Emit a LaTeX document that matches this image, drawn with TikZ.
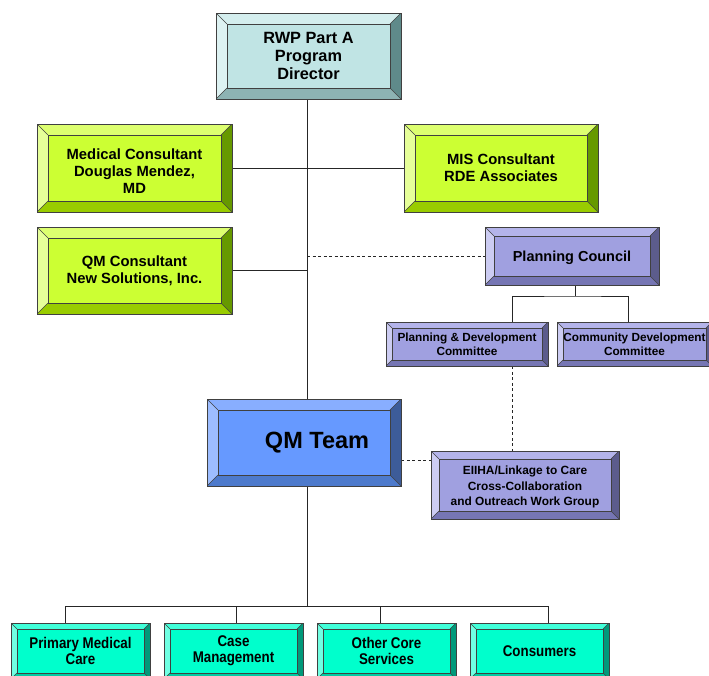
\documentclass[tikz,border=0pt]{standalone}
\usepackage{fontspec}
\setmainfont{Liberation Sans}
\newfontfamily\narrowfont[FakeStretch=0.86]{Liberation Sans}
\usetikzlibrary{backgrounds}
\definecolor{cyanF}{HTML}{C0E4E4}\definecolor{cyanT}{HTML}{D4EEEE}
\definecolor{cyanL}{HTML}{DDF2F2}\definecolor{cyanR}{HTML}{5F8A8A}
\definecolor{cyanB}{HTML}{8DB3B3}
\definecolor{limeF}{HTML}{CCFF33}\definecolor{limeT}{HTML}{DDFF70}
\definecolor{limeL}{HTML}{E6FF99}\definecolor{limeR}{HTML}{669900}
\definecolor{limeB}{HTML}{99CC00}
\definecolor{lilaF}{HTML}{A0A0E0}\definecolor{lilaT}{HTML}{B4B4EA}
\definecolor{lilaL}{HTML}{CCCCF2}\definecolor{lilaR}{HTML}{5C5C8C}
\definecolor{lilaB}{HTML}{7676B4}
\definecolor{blueF}{HTML}{6699FF}\definecolor{blueT}{HTML}{88AEFF}
\definecolor{blueL}{HTML}{9DBDFF}\definecolor{blueR}{HTML}{3D5C99}
\definecolor{blueB}{HTML}{4D7ACC}
\definecolor{tealF}{HTML}{00FFCC}\definecolor{tealT}{HTML}{40FFD9}
\definecolor{tealL}{HTML}{70FFE2}\definecolor{tealR}{HTML}{00997A}
\definecolor{tealB}{HTML}{00CCA3}
\newcommand{\lowertext}[2]{\raisebox{-#1}[\height][\depth]{\begin{tabular}{@{}c@{}}#2\end{tabular}}}
\tikzset{
  bevelbox/.style 2 args={draw=black!75, line width=0.9pt, fill=#1F,
    inner sep=0pt, align=center, font=\bfseries,
    path picture={
      \fill[#1T] (path picture bounding box.north west) -- (path picture bounding box.north east)
        -- ([shift={(-#2,-#2)}]path picture bounding box.north east) -- ([shift={(#2,-#2)}]path picture bounding box.north west) -- cycle;
      \fill[#1L] (path picture bounding box.north west) -- (path picture bounding box.south west)
        -- ([shift={(#2,#2)}]path picture bounding box.south west) -- ([shift={(#2,-#2)}]path picture bounding box.north west) -- cycle;
      \fill[#1R] (path picture bounding box.north east) -- (path picture bounding box.south east)
        -- ([shift={(-#2,#2)}]path picture bounding box.south east) -- ([shift={(-#2,-#2)}]path picture bounding box.north east) -- cycle;
      \fill[#1B] (path picture bounding box.south west) -- (path picture bounding box.south east)
        -- ([shift={(-#2,#2)}]path picture bounding box.south east) -- ([shift={(#2,#2)}]path picture bounding box.south west) -- cycle;
      \draw[black!75, line width=0.6pt] ([shift={(#2,-#2)}]path picture bounding box.north west) rectangle ([shift={(-#2,#2)}]path picture bounding box.south east);
      \draw[black!75, line width=0.6pt] (path picture bounding box.north west) -- ++(#2,-#2)
        (path picture bounding box.north east) -- ++(-#2,-#2)
        (path picture bounding box.south west) -- ++(#2,#2)
        (path picture bounding box.south east) -- ++(-#2,#2);
    }},
  boxsize/.style 2 args={minimum width=#1, minimum height=#2},
  link/.style={draw=black!85, line width=0.7pt},
  dashlink/.style={link, dash pattern=on 3pt off 2.5pt}
}
\begin{document}
\begin{tikzpicture}[x=1pt,y=-1pt]
  \clip (0,0) rectangle (709,675);

  \node[bevelbox={cyan}{11pt}, boxsize={185pt}{86pt}, font=\bfseries\fontsize{16.3}{18}\selectfont] (dir) at (308.5,56) {RWP Part A\\Program\\Director};
  \node[bevelbox={lime}{11pt}, boxsize={195pt}{88pt}, font=\bfseries\fontsize{14.8}{17}\selectfont] (med) at (134.5,168) {\lowertext{5pt}{Medical Consultant\\Douglas Mendez,\\MD}};
  \node[bevelbox={lime}{11pt}, boxsize={194pt}{88pt}, font=\bfseries\fontsize{14.8}{17}\selectfont] (mis) at (501,168) {MIS Consultant\\RDE Associates};
  \node[bevelbox={lime}{11pt}, boxsize={195pt}{87pt}, font=\bfseries\fontsize{14.8}{17}\selectfont] (qmc) at (134.5,270.5) {QM Consultant\\New Solutions, Inc.};
  \node[bevelbox={lila}{9pt}, boxsize={174pt}{58pt}, font=\bfseries\fontsize{14.5}{16}\selectfont] (pc) at (572,256) {\lowertext{2.5pt}{Planning Council}};
  \node[bevelbox={lila}{6pt}, boxsize={162pt}{44pt}, font=\bfseries\fontsize{11.8}{14}\selectfont] (pd) at (467,344) {Planning \& Development\\Committee};
  \node[bevelbox={lila}{6pt}, boxsize={155pt}{44pt}, font=\bfseries\fontsize{11.8}{14}\selectfont] (cd) at (634.5,344) {Community Development\\Committee};
  \node[bevelbox={blue}{11pt}, boxsize={194pt}{87pt}, font=\bfseries\fontsize{23.5}{26}\selectfont] (qmt) at (304,442.5) {\hspace*{26pt}QM Team};
  \node[bevelbox={lila}{8pt}, boxsize={188pt}{68pt}, font=\bfseries\fontsize{11.9}{15.5}\selectfont] (eiiha) at (525,485) {\lowertext{2pt}{EIIHA/Linkage to Care\\Cross-Collaboration\\and Outreach Work Group}};
  \node[bevelbox={teal}{6pt}, boxsize={139pt}{56pt}, font=\narrowfont\bfseries\fontsize{15.5}{16}\selectfont] (pmc) at (80.5,651) {Primary Medical\\Care};
  \node[bevelbox={teal}{6pt}, boxsize={139pt}{56pt}, font=\narrowfont\bfseries\fontsize{15.5}{16}\selectfont] (cm) at (233.5,651) {Case\\Management};
  \node[bevelbox={teal}{6pt}, boxsize={139pt}{56pt}, font=\narrowfont\bfseries\fontsize{15.5}{16}\selectfont] (ocs) at (386.5,651) {Other Core\\Services};
  \node[bevelbox={teal}{6pt}, boxsize={139pt}{56pt}, font=\narrowfont\bfseries\fontsize{15.5}{16}\selectfont] (cons) at (539.5,651) {Consumers};

  \coordinate (busmid) at (307,606);
  \coordinate (pcbus) at (575,296);
  \begin{scope}[on background layer]
    \draw[link] (dir.south -| busmid) -- (busmid);
    \draw[link] (med) -- (mis);
    \draw[link] (qmc.east) -- (qmc.east -| busmid);
    \draw[dashlink] (pc.west -| busmid) -- (pc.west);
    \draw[link] (pc.south -| pcbus) -- (pcbus);
    \draw[link] ([xshift=45pt]pd.north) |- (pcbus) -| ([xshift=-6.5pt]cd.north);
    \draw[dashlink] ([xshift=45pt]pd.south) -- ([xshift=-13pt]eiiha.north);
    \draw[dashlink] ([yshift=-17.5pt]qmt.east) -- ([yshift=25pt]eiiha.west);
    \draw[link] ([xshift=-15.5pt]pmc.north) |- (busmid) -| ([xshift=8.5pt]cons.north);
    \draw[link] ([xshift=2.5pt]cm.north) |- (busmid);
    \draw[link] ([xshift=-6.5pt]ocs.north) |- (busmid);
  \end{scope}
\end{tikzpicture}
\end{document}
